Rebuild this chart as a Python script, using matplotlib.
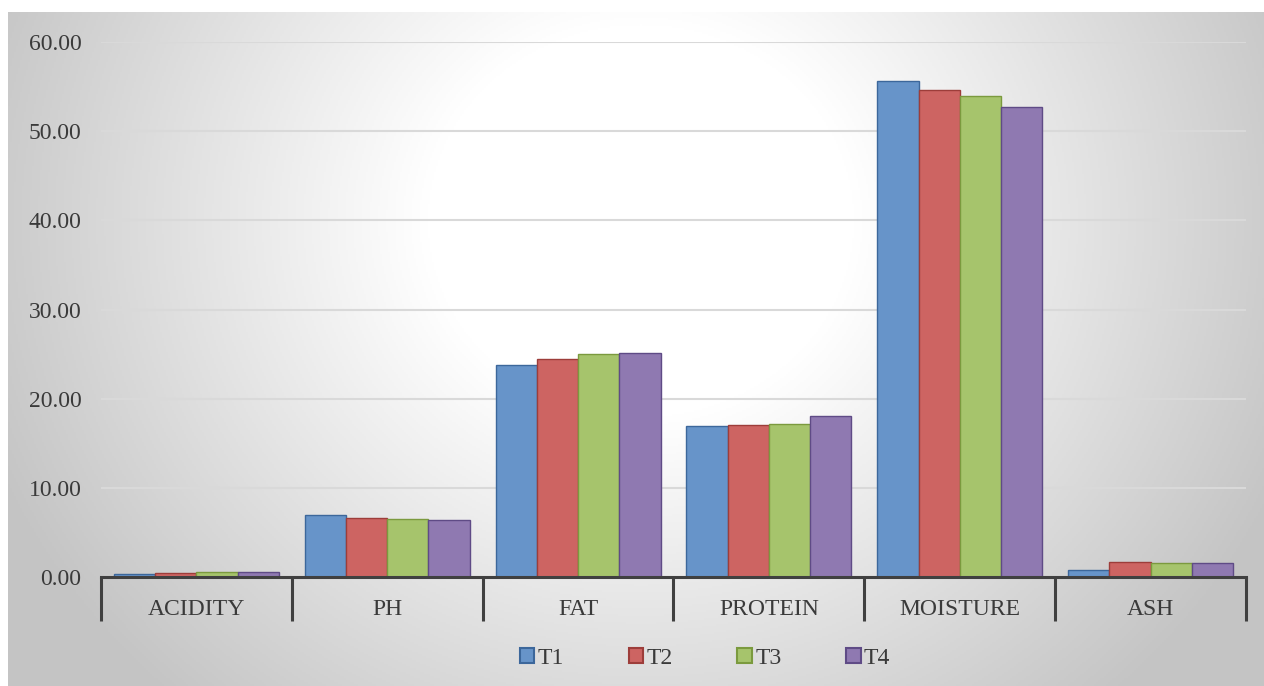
import numpy as np
import matplotlib
matplotlib.use("Agg")
import matplotlib.pyplot as plt
from matplotlib.patches import Patch

categories = ["ACIDITY", "PH", "FAT", "PROTEIN", "MOISTURE", "ASH"]
series_names = ["T1", "T2", "T3", "T4"]
T1 = [0.35, 6.90, 23.80, 16.90, 55.60, 0.80]
T2 = [0.45, 6.65, 24.40, 17.05, 54.60, 1.70]
T3 = [0.55, 6.45, 25.00, 17.20, 53.90, 1.55]
T4 = [0.60, 6.35, 25.10, 18.05, 52.70, 1.55]
series = [T1, T2, T3, T4]
yticks = [0, 10, 20, 30, 40, 50, 60]

fills = ["#6794c9", "#cd6462", "#a6c46c", "#8f79b1"]
edges = ["#3c679b", "#9d3d3a", "#7b9a3e", "#5f4b86"]

plt.rcParams['font.family'] = ['Liberation Serif', 'DejaVu Serif']

W, H = 1264, 686
fig = plt.figure(figsize=(W / 100, H / 100), dpi=100)
fig.patch.set_facecolor("white")

# background with radial gradient
bg = fig.add_axes([8 / W, 0, (W - 8) / W, (H - 12) / H])
bg.set_axis_off()
ny, nx = 337, 628
yy, xx = np.mgrid[0:ny, 0:nx]
px = 8 + xx * (W - 8) / nx
py = 12 + yy * (H - 12) / ny
t = np.sqrt(((px - 640) / 760) ** 2 + ((py - 220) / 700) ** 2)
v = 1.0 - 0.23 * np.clip((t - 0.28) / 0.64, 0, 1)
img = np.dstack([v, v, v])
bg.imshow(img, extent=[0, 1, 0, 1], aspect="auto", origin="upper")
bg.set_xlim(0, 1)
bg.set_ylim(0, 1)

ax = fig.add_axes([101 / W, 109 / H, 1145 / W, 535 / H])
ax.set_facecolor("none")
x = np.arange(len(categories))
bw = 0.216
for i, (vals, fc, ec, name) in enumerate(zip(series, fills, edges, series_names)):
    ax.bar(x + (i - 1.5) * bw, vals, width=bw, color=fc, edgecolor=ec,
           linewidth=1.0, label=name, zorder=3)

ax.set_xlim(-0.5, len(categories) - 0.5)
ax.set_ylim(0, 60)
ax.set_yticks(yticks)
ax.set_yticklabels([f"{v:.2f}" for v in yticks], fontsize=17, color="#3a3a3a")
ax.tick_params(axis="y", length=0, pad=14)
ax.yaxis.grid(True, color="#d9d9d9", linewidth=1.5, zorder=0)
ax.set_axisbelow(True)

ax.set_xticks(x)
ax.set_xticklabels(categories, fontsize=17, color="#3a3a3a")
ax.tick_params(axis="x", which="major", length=0, pad=16)
ax.set_xticks(np.arange(-0.5, len(categories), 1.0), minor=True)
ax.tick_params(axis="x", which="minor", length=31.5, width=2.2, color="#404040",
               direction="out")

for s in ["top", "right", "left"]:
    ax.spines[s].set_visible(False)
ax.spines["bottom"].set_color("#404040")
ax.spines["bottom"].set_linewidth(2.2)
ax.spines["bottom"].set_zorder(4)

handles = [Patch(facecolor=fc, edgecolor=ec, linewidth=1.5) for fc, ec in zip(fills, edges)]
leg = fig.legend(handles, series_names, loc="center", bbox_to_anchor=(705 / W, 28 / H),
                 ncol=4, frameon=False, fontsize=17, handlelength=0.6, handleheight=0.6,
                 handletextpad=0.15, columnspacing=2.75, labelcolor="#3a3a3a")

fig.savefig("out.png", dpi=100)
